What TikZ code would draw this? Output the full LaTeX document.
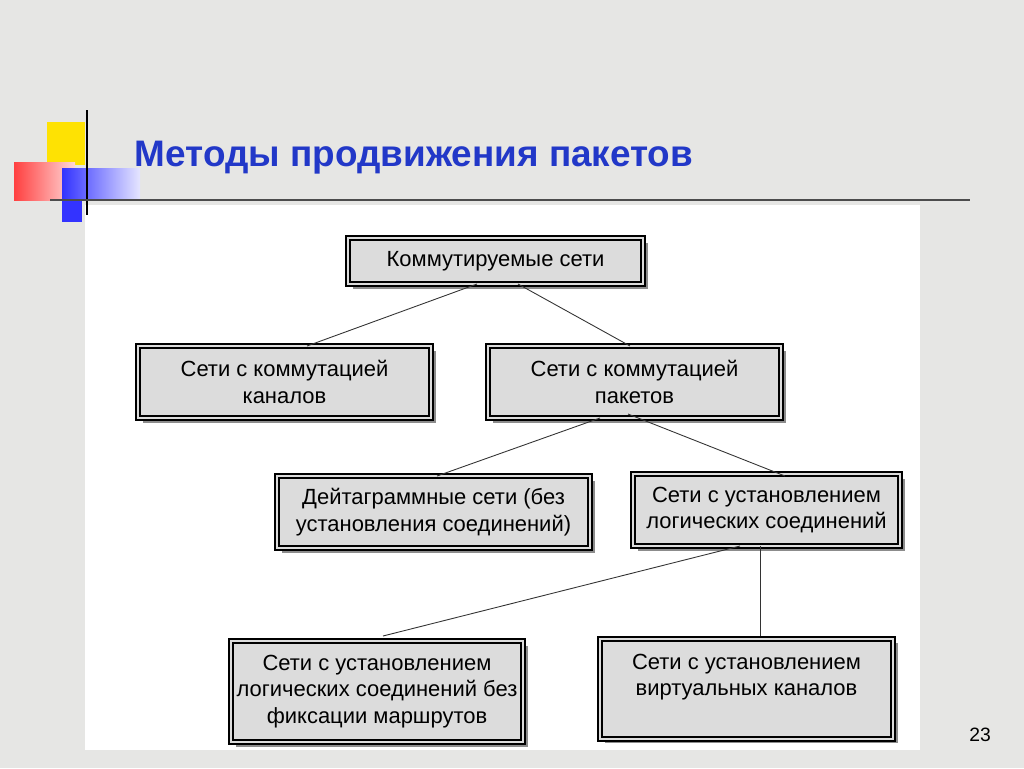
\documentclass[tikz,border=0pt]{standalone}
\usepackage{fontspec}
\setmainfont{Liberation Sans}
\usetikzlibrary{positioning}
\definecolor{bgray}{HTML}{E6E6E4}
\definecolor{boxgray}{HTML}{DCDCDC}
\definecolor{titleblue}{HTML}{2238C8}
\tikzset{
  netbox/.style={draw=black, line width=1.2pt, fill=boxgray, align=center,
    font=\fontsize{12.5}{15}\selectfont, inner sep=0pt,
    double=boxgray, double distance=1.4pt},
  link/.style={draw=black!80, line width=0.5pt}
}
\begin{document}
\begin{tikzpicture}[x=0.02cm,y=-0.02cm]
\fill[bgray] (0,0) rectangle (1024,768);
\useasboundingbox (0,0) rectangle (1024,768);
\fill[white] (85,205) rectangle (920,750);
% decoration
\fill[yellow!85!orange] (47,122) rectangle (85,165);
\shade[left color=red!75, right color=red!15] (14,162) rectangle (75,200);
\shade[left color=blue!80, right color=blue!10] (62,168) rectangle (140,200);
\fill[blue!80] (62,200) rectangle (82,222);
\draw[black, line width=1.5pt] (87,110) -- (87,215);
\draw[black!70, line width=1.2pt] (50,200) -- (970,200);
\node[font=\bfseries\fontsize{21}{24}\selectfont, text=titleblue] (title) at (414,158) {Методы продвижения пакетов};
% boxes (shadow + box)
\foreach \xa/\ya/\xb/\yb in {348/238/643/284, 138/346/431/418, 488/346/781/418,
  277/476/590/548, 633/474/900/546, 231/641/523/742, 600/638/893/738}
  \fill[black!45] (\xa+5,\ya+5) rectangle (\xb+5,\yb+5);
\node[netbox, minimum width=5.9cm, minimum height=0.92cm] (top) at (495.5,261) {Коммутируемые сети};
\node[netbox, minimum width=5.86cm, minimum height=1.44cm] (circ) at (284.5,382) {Сети с коммутацией\\каналов};
\node[netbox, minimum width=5.86cm, minimum height=1.44cm] (pack) at (634.5,382) {Сети с коммутацией\\пакетов};
\node[netbox, minimum width=6.26cm, minimum height=1.44cm] (dgram) at (433.5,512) {Дейтаграммные сети (без\\установления соединений)};
\node[netbox, minimum width=5.34cm, minimum height=1.44cm] (logic) at (766.5,510) {Сети с установлением\\логических соединений};
\node[netbox, minimum width=5.84cm, minimum height=2.02cm] (nofix) at (377,691.5) {Сети с установлением\\логических соединений без\\фиксации маршрутов};
\node[netbox, minimum width=5.86cm, minimum height=2.0cm, anchor=north] (virt) at (746.5,638) {};
\node[align=center, font=\fontsize{12.5}{15}\selectfont] (virttext) at (746.5,677) {Сети с установлением\\виртуальных каналов};
% connectors
\coordinate (t1) at (477,284); \coordinate (t2) at (518,284);
\coordinate (c1) at (307,346); \coordinate (p1) at (630,346);
\draw[link] (t1) -- (c1);
\draw[link] (t2) -- (p1);
\coordinate (p2) at (600,418); \coordinate (p3) at (628,414);
\coordinate (d1) at (437,476); \coordinate (l1) at (785,476);
\draw[link] (p2) -- (d1);
\draw[link] (p3) -- (l1);
\coordinate (l2) at (740,546); \coordinate (l3) at (760,546);
\coordinate (n1) at (383,636); \coordinate (v1) at (760,636);
\draw[link] (l2) -- (n1);
\draw[link] (l3) -- (v1);
\node[font=\fontsize{11}{13}\selectfont] (num) at (980,735) {23};
\end{tikzpicture}
\end{document}
